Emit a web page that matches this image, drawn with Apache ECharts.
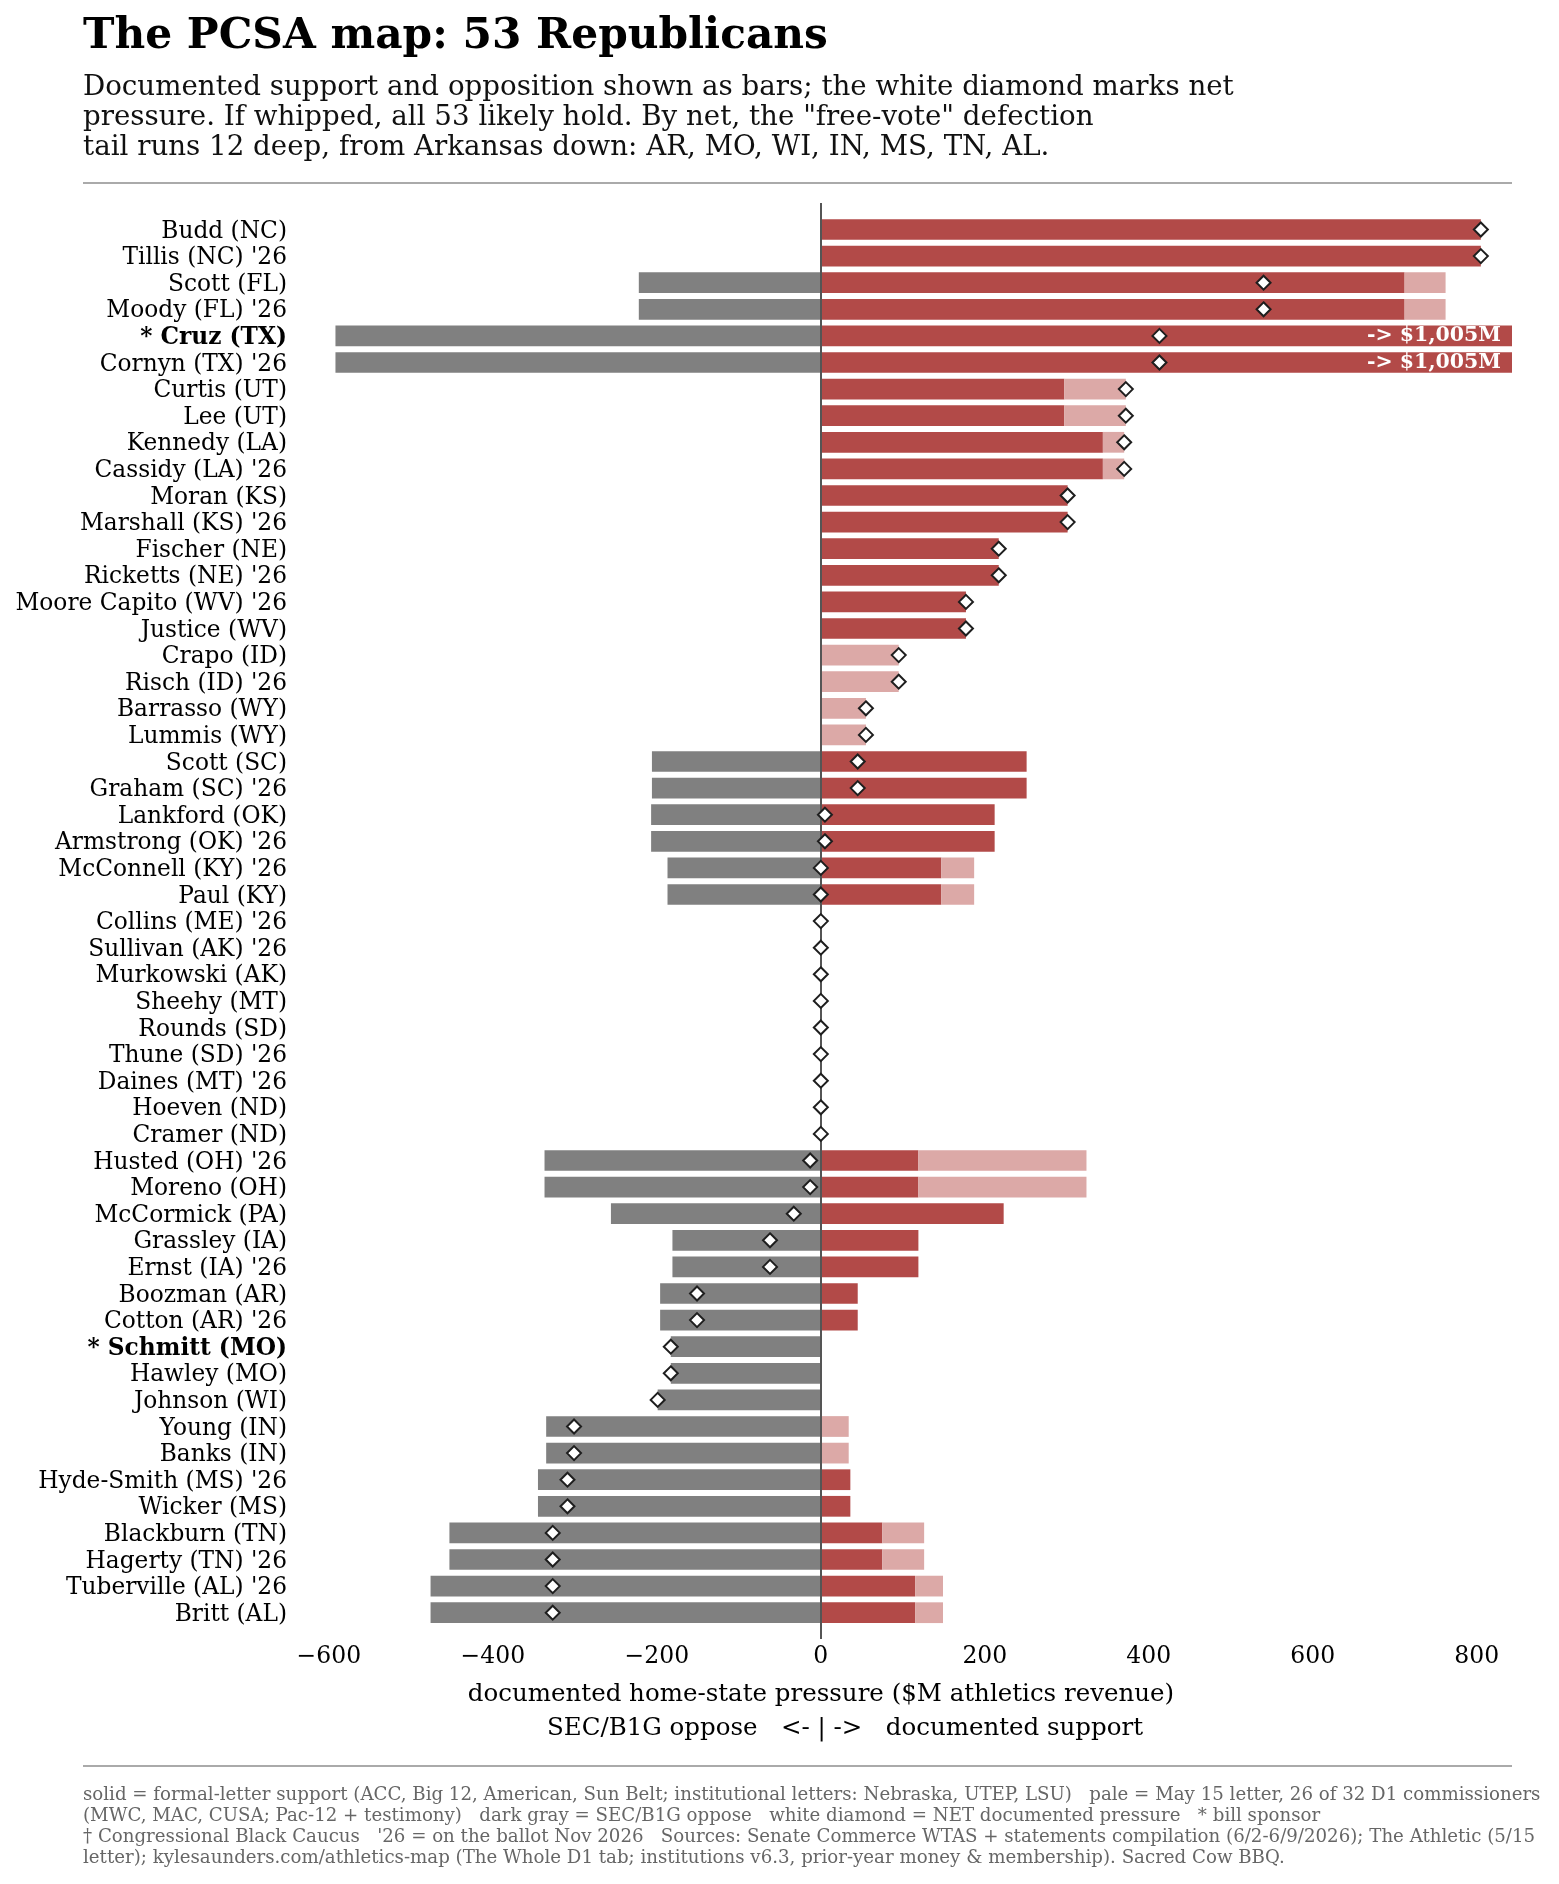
<!DOCTYPE html>
<html><head><meta charset="utf-8">
<script src="https://cdn.jsdelivr.net/npm/echarts@6/dist/echarts.min.js"></script>
<style>html,body{margin:0;padding:0;background:#fff}#c{width:1559px;height:1884px}</style>
</head><body><div id="c"></div>
<script>
const senators = [
  "Budd (NC)", "Tillis (NC) '26", "Scott (FL)", "Moody (FL) '26", "* Cruz (TX)", "Cornyn (TX) '26",
  "Curtis (UT)", "Lee (UT)", "Kennedy (LA)", "Cassidy (LA) '26", "Moran (KS)", "Marshall (KS) '26",
  "Fischer (NE)", "Ricketts (NE) '26", "Moore Capito (WV) '26", "Justice (WV)", "Crapo (ID)", "Risch (ID) '26",
  "Barrasso (WY)", "Lummis (WY)", "Scott (SC)", "Graham (SC) '26", "Lankford (OK)", "Armstrong (OK) '26",
  "McConnell (KY) '26", "Paul (KY)", "Collins (ME) '26", "Sullivan (AK) '26", "Murkowski (AK)", "Sheehy (MT)",
  "Rounds (SD)", "Thune (SD) '26", "Daines (MT) '26", "Hoeven (ND)", "Cramer (ND)", "Husted (OH) '26",
  "Moreno (OH)", "McCormick (PA)", "Grassley (IA)", "Ernst (IA) '26", "Boozman (AR)", "Cotton (AR) '26",
  "* Schmitt (MO)", "Hawley (MO)", "Johnson (WI)", "Young (IN)", "Banks (IN)", "Hyde-Smith (MS) '26",
  "Wicker (MS)", "Blackburn (TN)", "Hagerty (TN) '26", "Tuberville (AL) '26", "Britt (AL)"
];
// SEC/B1G opposition ($M, negative)
const oppose = [
  0, 0, -222, -222, -592, -592,
  0, 0, 0, 0, 0, 0,
  0, 0, 0, 0, 0, 0,
  0, 0, -206, -206, -207, -207,
  -187, -187, 0, 0, 0, 0,
  0, 0, 0, 0, 0, -337,
  -337, -256, -181, -181, -196, -196,
  -183, -183, -199, -335, -335, -345,
  -345, -453, -453, -476, -476
];
// formal-letter support (solid)
const solidSupport = [
  805, 805, 712, 712, 1005, 1005,
  297, 297, 344, 344, 301, 301,
  217, 217, 177, 177, 0, 0,
  0, 0, 251, 251, 212, 212,
  147, 147, 0, 0, 0, 0,
  0, 0, 0, 0, 0, 119,
  119, 223, 119, 119, 45, 45,
  0, 0, 0, 0, 0, 36,
  36, 75, 75, 115, 115
];
// May 15 letter support (pale)
const paleSupport = [
  0, 0, 50, 50, 0, 0,
  75, 75, 26, 26, 0, 0,
  0, 0, 0, 0, 95, 95,
  55, 55, 0, 0, 0, 0,
  40, 40, 0, 0, 0, 0,
  0, 0, 0, 0, 0, 205,
  205, 0, 0, 0, 0, 0,
  0, 0, 0, 34, 34, 0,
  0, 51, 51, 34, 34
];
// net documented pressure (white diamond)
const netPressure = [
  805, 805, 540, 540, 413, 413,
  372, 372, 370, 370, 301, 301,
  217, 217, 177, 177, 95, 95,
  55, 55, 45, 45, 5, 5,
  0, 0, 0, 0, 0, 0,
  0, 0, 0, 0, 0, -13,
  -13, -33, -62, -62, -151, -151,
  -183, -183, -199, -301, -301, -309,
  -309, -327, -327, -327, -327
];
const xTicks = [-600, -400, -200, 0, 200, 400, 600, 800];
const xMin = -645, xMax = 843;

const subtitleLines = [
  'Documented support and opposition shown as bars; the white diamond marks net',
  'pressure. If whipped, all 53 likely hold. By net, the "free-vote" defection',
  'tail runs 12 deep, from Arkansas down: AR, MO, WI, IN, MS, TN, AL.'
];
const footerLines = [
  'solid = formal-letter support (ACC, Big 12, American, Sun Belt; institutional letters: Nebraska, UTEP, LSU)   pale = May 15 letter, 26 of 32 D1 commissioners',
  '(MWC, MAC, CUSA; Pac-12 + testimony)   dark gray = SEC/B1G oppose   white diamond = NET documented pressure   * bill sponsor',
  '\u2020 Congressional Black Caucus   \'26 = on the ballot Nov 2026   Sources: Senate Commerce WTAS + statements compilation (6/2-6/9/2026); The Athletic (5/15',
  'letter); kylesaunders.com/athletics-map (The Whole D1 tab; institutions v6.3, prior-year money & membership). Sacred Cow BBQ.'
];

const FONT = '"DejaVu Serif", "Liberation Serif", serif';
const LBL = 23.3;

const chart = echarts.init(document.getElementById('c'), null, {renderer: 'canvas'});
const graphics = [
  {type: 'text', x: 83, y: 37, style: {text: 'The PCSA map: 53 Republicans', font: 'bold 42.3px ' + FONT, fill: '#000', verticalAlign: 'middle'}},
  {type: 'rect', shape: {x: 83, y: 182, width: 1429, height: 2}, style: {fill: '#aaaaaa'}},
  {type: 'text', x: 821, y: 1694.5, style: {text: 'documented home-state pressure ($M athletics revenue)', font: '24.5px ' + FONT, fill: '#000', align: 'center', verticalAlign: 'middle'}},
  {type: 'text', x: 845, y: 1728.5, style: {text: 'SEC/B1G oppose   <- | ->   documented support', font: '24.5px ' + FONT, fill: '#000', align: 'center', verticalAlign: 'middle'}},
  {type: 'rect', shape: {x: 83, y: 1765, width: 1429, height: 2}, style: {fill: '#aaaaaa'}}
];
subtitleLines.forEach((t, i) => graphics.push({type: 'text', x: 83, y: 87.5 + i * 30, style: {text: t, font: '27.7px ' + FONT, fill: '#111', verticalAlign: 'middle'}}));
footerLines.forEach((t, i) => graphics.push({type: 'text', x: 83, y: 1795 + i * 21.1, style: {text: t, font: '18.2px ' + FONT, fill: '#666666', verticalAlign: 'middle'}}));

const hiddenAxis = {show: false, axisLine: {show: false}, axisTick: {show: false}, axisLabel: {show: false}, splitLine: {show: false}};

const option = {
  backgroundColor: '#ffffff',
  animation: false,
  grid: [
    {left: 292, right: 47, top: 216.2, height: 1409.8, containLabel: false},
    {left: 292, right: 47, top: 203, height: 1436, containLabel: false}
  ],
  xAxis: [
    {
      type: 'value', min: xMin, max: xMax, gridIndex: 0,
      axisLine: {show: false}, axisTick: {show: false}, splitLine: {show: false},
      axisLabel: {
        customValues: xTicks, margin: 19,
        fontFamily: FONT, fontSize: 23.5, color: '#000',
        formatter: v => v < 0 ? '\u2212' + Math.abs(v) : String(v)
      }
    },
    Object.assign({type: 'value', min: xMin, max: xMax, gridIndex: 1}, hiddenAxis)
  ],
  yAxis: [
    {
      type: 'category', data: senators, inverse: true, gridIndex: 0,
      axisLine: {show: false}, axisTick: {show: false}, splitLine: {show: false},
      axisLabel: {
        interval: 0, margin: 5, padding: [4, 0, 0, 0], fontFamily: FONT, fontSize: LBL, color: '#000',
        formatter: v => v.startsWith('* ') ? '{b|' + v + '}' : v,
        rich: {b: {fontFamily: FONT, fontSize: LBL, fontWeight: 'bold', color: '#000'}}
      }
    },
    Object.assign({type: 'value', min: 0, max: 1, gridIndex: 1}, hiddenAxis)
  ],
  series: [
    {
      name: 'oppose', type: 'bar', stack: 'p', barWidth: '78%', z: 2,
      itemStyle: {color: '#808080'}, data: oppose
    },
    {
      name: 'solid', type: 'bar', stack: 'p', barWidth: '78%', z: 2,
      itemStyle: {color: '#b24a48'}, data: solidSupport,
      label: {
        show: true, position: 'insideRight', distance: 11,
        fontFamily: FONT, fontSize: 20.5, fontWeight: 'bold', color: '#ffffff',
        formatter: p => p.value > xMax ? '-> $' + p.value.toLocaleString('en-US') + 'M' : ''
      }
    },
    {
      name: 'pale', type: 'bar', stack: 'p', barWidth: '78%', z: 2,
      itemStyle: {color: '#dca9a7'}, data: paleSupport
    },
    {
      name: 'zero', type: 'line', xAxisIndex: 1, yAxisIndex: 1, data: [], z: 3, silent: true,
      markLine: {
        silent: true, z: 3, symbol: ['none', 'none'], label: {show: false},
        lineStyle: {color: '#555555', width: 2, type: 'solid'},
        emphasis: {disabled: true},
        data: [{xAxis: 0}]
      }
    },
    {
      name: 'net', type: 'scatter', z: 6, symbol: 'diamond', symbolSize: 14,
      itemStyle: {color: '#ffffff', borderColor: '#1e1e1e', borderWidth: 2, opacity: 1},
      data: netPressure.map((v, i) => [v, i])
    }
  ],
  graphic: graphics
};
chart.setOption(option);
</script>
</body></html>
